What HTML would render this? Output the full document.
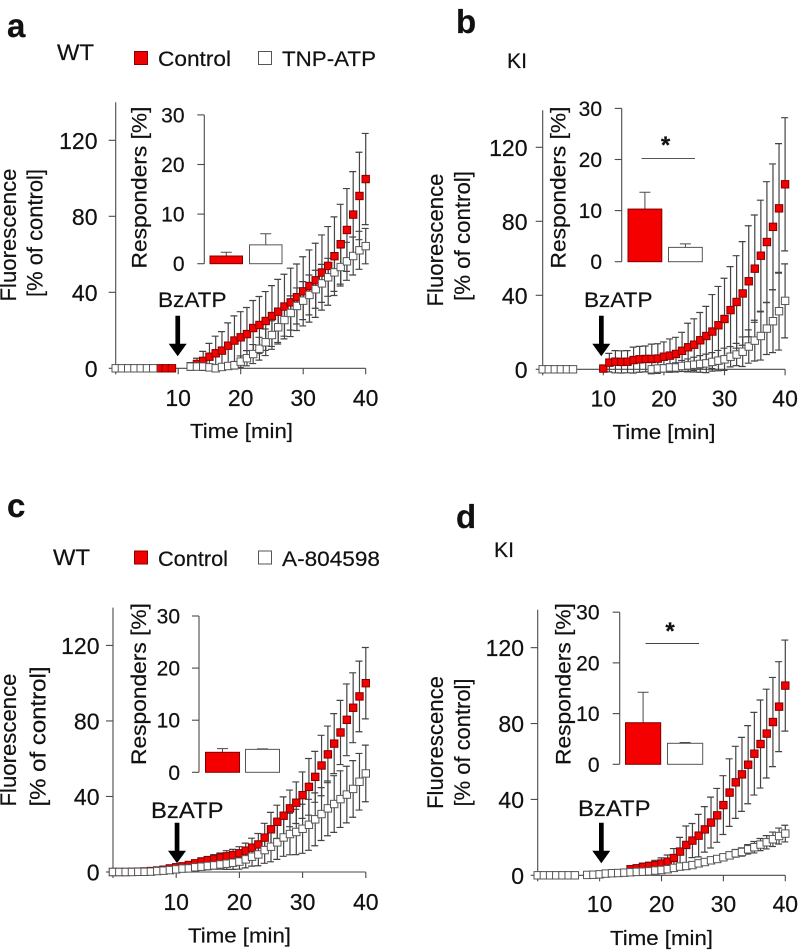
<!DOCTYPE html>
<html lang="en">
<head>
<meta charset="utf-8">
<title>Fluorescence and responders panels</title>
<style>
html,body{margin:0;padding:0;background:#fff;}
svg{display:block;font-family:"Liberation Sans",Arial,sans-serif;fill:#111;filter:blur(0.35px);}
text{fill:#111;stroke:#111;stroke-width:0.2;}
</style>
</head>
<body>
<svg id="figure" width="799" height="951" viewBox="0 0 799 951" xmlns="http://www.w3.org/2000/svg">
<rect width="799" height="951" fill="#fff"/>

<g id="panel-a">
<text x="7" y="37" font-size="33" font-weight="bold">a</text>
<text x="57" y="60" font-size="22" textLength="37" lengthAdjust="spacingAndGlyphs">WT</text>
<rect x="134.500" y="51.500" width="13" height="13" fill="#f00000" stroke="#800" stroke-width="1"/>
<text x="158" y="66" font-size="21.500" textLength="73" lengthAdjust="spacingAndGlyphs">Control</text>
<rect x="258.500" y="51.500" width="13" height="13" fill="#fff" stroke="#555" stroke-width="1"/>
<text x="282" y="66" font-size="21.500" textLength="94" lengthAdjust="spacingAndGlyphs">TNP-ATP</text>
<text transform="translate(16,235) rotate(-90)" text-anchor="middle" font-size="22" textLength="133" lengthAdjust="spacingAndGlyphs">Fluorescence</text>
<text transform="translate(42.500,233) rotate(-90)" text-anchor="middle" font-size="22" textLength="128" lengthAdjust="spacingAndGlyphs">[% of control]</text>
<text transform="translate(146.500,187.500) rotate(-90)" text-anchor="middle" font-size="21.500" textLength="162" lengthAdjust="spacingAndGlyphs">Responders [%]</text>
<text x="158" y="307" font-size="21.500" textLength="68.500" lengthAdjust="spacingAndGlyphs">BzATP</text>
<text x="190" y="438" font-size="20.500" textLength="103" lengthAdjust="spacingAndGlyphs">Time [min]</text>
<path d="M175.400 315.700h4.700v28h6.600l-9 12.500-9-12.500h6.700z" fill="#000"/>
</g>

<g id="panel-b">
<text x="456" y="33" font-size="33" font-weight="bold">b</text>
<text x="507" y="68" font-size="21.500" textLength="20" lengthAdjust="spacingAndGlyphs">KI</text>
<text transform="translate(443,240) rotate(-90)" text-anchor="middle" font-size="22" textLength="133" lengthAdjust="spacingAndGlyphs">Fluorescence</text>
<text transform="translate(470,236) rotate(-90)" text-anchor="middle" font-size="22" textLength="130" lengthAdjust="spacingAndGlyphs">[% of control]</text>
<text transform="translate(565.500,187.500) rotate(-90)" text-anchor="middle" font-size="21.500" textLength="162" lengthAdjust="spacingAndGlyphs">Responders [%]</text>
<text x="584" y="307" font-size="21.500" textLength="68.500" lengthAdjust="spacingAndGlyphs">BzATP</text>
<text x="612.500" y="439" font-size="20.500" textLength="103" lengthAdjust="spacingAndGlyphs">Time [min]</text>
<path d="M599 315.700h4.700v28h6.600l-9 12.500-9-12.500h6.700z" fill="#000"/>
<line x1="641.500" x2="695" y1="158.500" y2="158.500" stroke="#555" stroke-width="1"/>
<text x="665.500" y="153" text-anchor="middle" font-size="24" font-weight="bold">*</text>
</g>

<g id="panel-c">
<text x="7" y="517" font-size="33" font-weight="bold">c</text>
<text x="53" y="565" font-size="22" textLength="37" lengthAdjust="spacingAndGlyphs">WT</text>
<rect x="134.500" y="551" width="13" height="13" fill="#f00000" stroke="#800" stroke-width="1"/>
<text x="158" y="566" font-size="21.500" textLength="70" lengthAdjust="spacingAndGlyphs">Control</text>
<rect x="258.500" y="551" width="13" height="13" fill="#fff" stroke="#555" stroke-width="1"/>
<text x="282" y="566" font-size="21.500" textLength="98" lengthAdjust="spacingAndGlyphs">A-804598</text>
<text transform="translate(16,740) rotate(-90)" text-anchor="middle" font-size="22" textLength="133" lengthAdjust="spacingAndGlyphs">Fluorescence</text>
<text transform="translate(45.500,736.500) rotate(-90)" text-anchor="middle" font-size="22" textLength="140" lengthAdjust="spacingAndGlyphs">[% of control]</text>
<text transform="translate(146,684) rotate(-90)" text-anchor="middle" font-size="21.500" textLength="162" lengthAdjust="spacingAndGlyphs">Responders [%]</text>
<text x="151" y="818" font-size="22.500" textLength="72.500" lengthAdjust="spacingAndGlyphs">BzATP</text>
<text x="188" y="942.500" font-size="20.500" textLength="103" lengthAdjust="spacingAndGlyphs">Time [min]</text>
<path d="M174.700 822.700h4.700v28h6.600l-9 12.500-9-12.500h6.700z" fill="#000"/>
</g>

<g id="panel-d">
<text x="456" y="528" font-size="33" font-weight="bold">d</text>
<text x="494" y="557" font-size="21.500" textLength="20" lengthAdjust="spacingAndGlyphs">KI</text>
<text transform="translate(443,742.500) rotate(-90)" text-anchor="middle" font-size="22" textLength="133" lengthAdjust="spacingAndGlyphs">Fluorescence</text>
<text transform="translate(470,742.500) rotate(-90)" text-anchor="middle" font-size="22" textLength="128" lengthAdjust="spacingAndGlyphs">[% of control]</text>
<text transform="translate(570.500,684) rotate(-90)" text-anchor="middle" font-size="21.500" textLength="162" lengthAdjust="spacingAndGlyphs">Responders [%]</text>
<text x="578" y="816" font-size="22.500" textLength="72.500" lengthAdjust="spacingAndGlyphs">BzATP</text>
<text x="610" y="945" font-size="20.500" textLength="103" lengthAdjust="spacingAndGlyphs">Time [min]</text>
<path d="M599 822.700h4.700v28h6.600l-9 12.500-9-12.500h6.700z" fill="#000"/>
<line x1="645.500" x2="699" y1="643.500" y2="643.500" stroke="#444" stroke-width="1"/>
<text x="670" y="639" text-anchor="middle" font-size="24" font-weight="bold">*</text>
</g>
</svg>

<script>
const N = null;
const timeTicks = [10, 20, 30, 40];
const fluorescenceTicks = [0, 40, 80, 120];
const responderTicks = [0, 10, 20, 30];

const aControl = [N,N,N,N,N,N,N,0,0,0,N,N,1,2.3,3.9,6.1,7.9,9.3,11.9,14.6,16.3,18,21.2,22.8,24.9,27.5,29.8,32.5,34.7,37.4,40.5,43.3,46.3,50.4,53.9,59,65.3,72.8,80.9,90.7,99.6];
const aControlErr = [0,0,0,0,0,0,0,0,0,0,0,0,2,3,5,7,9,10,12,13,13.5,14,14.5,15,15.5,16,17,17,18,17.5,18.2,19,19.5,19.8,20.7,20.7,21,21.8,22.6,23,24];
const aDrug = [0,0,0,0,0,0,0,N,N,N,N,N,.9,.9,.9,.5,0,.7,1.2,1.6,3.5,5.3,7.5,10.3,13.7,17.5,21.6,25.4,29.1,32.8,35.6,38.6,41.6,44.7,47.9,50.5,53.3,56.3,59.1,62.1,64.3];
const aDrugErr = [0,0,0,0,0,0,0,0,0,0,0,0,1,1,1,1,1,1,1.5,2,3,4,5,6,7,7.5,8,8.5,9,9.5,10,10.5,10,10,10,10,10,10,10,10,9.3];
const aBarValues = [1.55, 3.8];
const aBarErrs = [0.75, 2.25];

const bControl = [N,N,N,N,N,N,N,N,N,N,.4,3.6,4.1,4,4.1,5,5.4,5.6,5.6,5.8,6.8,7.4,8.3,10,11.9,13.3,15.7,18,20.4,23.8,27.2,32,36.4,41,47.6,54.4,61.4,68.8,77,87,100];
const bControlErr = [0,0,0,0,0,0,0,0,0,0,1,5,6,6,6,7,7,7,8,8,8,9,9,10,13,14,15,16,20,21,22,23.5,25,28,30,29,30,32.6,34,35,36];
const bDrug = [0,0,0,0,0,0,N,N,N,N,N,N,N,N,N,N,N,N,0,.4,.5,1,1,1.8,2.1,2.5,2.9,3.2,4,4.7,5.4,6.8,8,9.5,12.3,15.5,18,22,26,31.4,37];
const bDrugErr = [0,0,0,0,0,0,0,0,0,0,0,0,0,0,0,0,0,0,1,1,2,2,2.5,3,3.5,4,4.5,5,5,5.5,6,5.5,6,8,9,11,13,14,17,21,20];
const bBarValues = [10.3, 2.8];
const bBarErrs = [3.3, 0.7];

const cControl = [0,0,0,.1,.2,.3,.5,.8,1.2,1.9,2.5,3,3.7,4.6,5.5,6.2,6.7,7.6,8.3,9,9.9,11.3,12.9,14.6,18.2,22.6,26.6,29.8,33.7,36.7,40.7,45.1,50.4,56.4,62.3,68,73.9,80.6,87,93,100];
const cControlErr = [0,0,0,0,0,0,0,0,0,0,1,1,1.5,1.5,2,2,2.5,2.5,3,3,3.5,4,5,5.8,7.6,9,8.8,10,9.7,11,12.3,15,13.5,16,15,15.9,17,19,18.5,18.7,18.9];
const cDrug = [0,0,0,0,.1,.1,.2,.5,.7,1,1.4,1.8,1.9,2.5,2.8,3.2,3.5,4,4.4,4.9,5.5,6.7,8.1,9.3,11.6,13.4,15.7,18.3,20.1,21.2,22.9,25,27.9,30.7,33.7,36,38.6,41,44,47.8,52.2];
const cDrugErr = [0,0,0,0,0,0,0,0,0,0,.8,1,1,1.2,1.5,2,2,2.5,3,3.5,4,4.5,5,6,7,8,9,10,11,12,13,13.5,14,14,14.5,15,15,15,15,15,15];
const cBarValues = [3.84, 4.4];
const cBarErrs = [0.7, 0.1];

const dControl = [N,N,N,N,N,N,N,N,N,N,N,N,N,N,N,3.2,3.7,4.4,4.9,5.4,6.2,7.2,9.1,12.5,16,18.3,20.9,24.2,27.8,31.6,37,43.6,49,53.2,58.3,64.1,69.2,74.7,80.8,88.9,100];
const dControlErr = [0,0,0,0,0,0,0,0,0,0,0,0,0,0,0,1.5,1.5,2,2,2.5,3,3.5,5,7.5,10,9,11.2,12,13.4,14.2,15.5,17.8,19,19.5,20.6,21.8,23.2,23.4,23.5,23.7,24];
const dDrug = [0,0,0,0,0,0,0,N,.2,.3,.5,.9,1.1,1.2,1.4,1.6,1.8,1.9,2.1,2.5,2.8,3.2,3.9,4.6,4.9,5.4,6.3,7,7.9,8.6,9.5,10.5,11.6,12.3,13.7,14.8,16.2,17.4,19,20.7,22];
const dDrugErr = [0,0,0,0,0,0,0,0,0,0,0,0,.2,.2,.3,.3,.4,.4,.5,.5,.6,.6,.7,.7,.8,.8,1,1,1.2,1.3,1.5,1.8,2,2.2,2.5,3,3.2,3.5,3.8,4.2,4.4];
const dBarValues = [8.2, 4.14];
const dBarErrs = [6, 0.15];

const NS = 'http://www.w3.org/2000/svg';
const AXIS_COLOR = '#4a4a4a';

function node(parent, tag, props, text) {
  const el = document.createElementNS(NS, tag);
  for (const k in props) el.setAttribute(k, props[k]);
  if (text !== undefined) el.textContent = text;
  parent.appendChild(el);
  return el;
}

function drawSeries(g, xScale, yScale, values, errs, kind, layer) {
  values.forEach(function (v, t) {
    if (v === null) return;
    const cx = xScale(t);
    const cy = yScale(v);
    if (layer === 'err') {
      const e = errs[t];
      if (e <= 0) return;
      const up = yScale(v + e);
      const down = yScale(v - e);
      const bar = node(g, 'path', {
        d: 'M' + cx + ' ' + up + 'V' + down + 'M' + (cx - 4) + ' ' + up + 'H' + (cx + 3) + 'M' + (cx - 4) + ' ' + down + 'H' + (cx + 3),
        stroke: '#444', 'stroke-width': 1.2, fill: 'none'
      });
      
      
    } else {
      const m = node(g, 'rect', {
        x: cx - 3.7, y: cy - 3.7, width: 7.4, height: 7.4,
        fill: kind === 'control' ? '#f50000' : '#fff',
        stroke: kind === 'control' ? '#800000' : '#555',
        'stroke-width': 1
      });
      
      
    }
  });
}

function drawPanel(cfg) {
  const g = document.getElementById(cfg.id);
  const xScale = function (t) { return cfg.x0 + t * cfg.dx; };
  const yScale = function (v) { return cfg.y0 - v * cfg.dy; };
  const insetScale = function (v) { return cfg.insetY0 - v * cfg.insetDy; };

  const xAxis = node(g, 'line', { x1: xScale(0), x2: xScale(40), y1: cfg.y0, y2: cfg.y0, stroke: AXIS_COLOR, 'stroke-width': 1.1 });
  
  
  const yAxis = node(g, 'line', { x1: xScale(0), x2: xScale(0), y1: yScale(140), y2: cfg.y0 + 5, stroke: AXIS_COLOR, 'stroke-width': 1.1 });
  
  

  [0].concat(timeTicks).forEach(function (t) {
    const tick = node(g, 'line', { x1: xScale(t), x2: xScale(t), y1: cfg.y0, y2: cfg.y0 + 6, stroke: AXIS_COLOR, 'stroke-width': 1.1 });
    
    
  });
  timeTicks.forEach(function (t) {
    const label = node(g, 'text', { x: xScale(t), y: cfg.xLabelY, 'text-anchor': 'middle', 'font-size': 23 }, String(t));
    
    
  });
  fluorescenceTicks.forEach(function (v) {
    const tick = node(g, 'line', { x1: xScale(0) - 7, x2: xScale(0), y1: yScale(v), y2: yScale(v), stroke: AXIS_COLOR, 'stroke-width': 1.1 });
    
    
    const label = node(g, 'text', { x: cfg.yLabelX, y: yScale(v) + 8.5, 'text-anchor': 'end', 'font-size': 23 }, String(v));
    
    
  });

  const seriesOrder = [[cfg.control, cfg.controlErr, 'control'], [cfg.drug, cfg.drugErr, 'drug']];
  seriesOrder.forEach(function (s) { drawSeries(g, xScale, yScale, s[0], s[1], s[2], 'err'); });
  seriesOrder.forEach(function (s) { drawSeries(g, xScale, yScale, s[0], s[1], s[2], 'mark'); });

  const insetAxis = node(g, 'line', { x1: cfg.insetX, x2: cfg.insetX, y1: insetScale(30), y2: cfg.insetY0, stroke: AXIS_COLOR, 'stroke-width': 1.1 });
  
  
  responderTicks.forEach(function (v) {
    const tick = node(g, 'line', { x1: cfg.insetX - 7, x2: cfg.insetX, y1: insetScale(v), y2: insetScale(v), stroke: AXIS_COLOR, 'stroke-width': 1.1 });
    
    
    const label = node(g, 'text', { x: cfg.insetLabelX, y: insetScale(v) + 7.5, 'text-anchor': 'end', 'font-size': 21 }, String(v));
    
    
  });
  cfg.barValues.forEach(function (v, i) {
    const left = cfg.barLeft[i];
    const mid = left + cfg.barWidth / 2;
    const top = insetScale(v);
    const whisker = node(g, 'path', {
      d: 'M' + mid + ' ' + top + 'V' + insetScale(v + cfg.barErrs[i]) + 'M' + (mid - 5.5) + ' ' + insetScale(v + cfg.barErrs[i]) + 'H' + (mid + 5.5),
      stroke: AXIS_COLOR, 'stroke-width': 1, fill: 'none'
    });
    
    
    const bar = node(g, 'rect', {
      x: left, y: top, width: cfg.barWidth, height: cfg.insetY0 - top,
      fill: i === 0 ? '#f50000' : '#fff',
      stroke: i === 0 ? '#800000' : '#555', 'stroke-width': 1
    });
    
    
  });
}

drawPanel({ id: 'panel-a', x0: 115.7, dx: 6.25, y0: 368.3, dy: 1.9, xLabelY: 406, yLabelX: 97.5,
  control: aControl, controlErr: aControlErr, drug: aDrug, drugErr: aDrugErr,
  insetX: 204.3, insetY0: 263.7, insetDy: 4.96, insetLabelX: 184.5, barLeft: [210, 249.5], barWidth: 32.5, barValues: aBarValues, barErrs: aBarErrs });
drawPanel({ id: 'panel-b', x0: 542.7, dx: 6.06, y0: 369.3, dy: 1.85, xLabelY: 406.5, yLabelX: 527.5,
  control: bControl, controlErr: bControlErr, drug: bDrug, drugErr: bDrugErr,
  insetX: 621.7, insetY0: 261.7, insetDy: 5.11, insetLabelX: 602, barLeft: [628, 668.5], barWidth: 33.8, barValues: bBarValues, barErrs: bBarErrs });
drawPanel({ id: 'panel-c', x0: 113, dx: 6.32, y0: 872, dy: 1.888, xLabelY: 910, yLabelX: 99.5,
  control: cControl, controlErr: cControlErr, drug: cDrug, drugErr: cDrugErr,
  insetX: 199, insetY0: 772.3, insetDy: 5.21, insetLabelX: 180, barLeft: [205.5, 245.5], barWidth: 34, barValues: cBarValues, barErrs: cBarErrs });
drawPanel({ id: 'panel-d', x0: 537.7, dx: 6.19, y0: 875.3, dy: 1.897, xLabelY: 912, yLabelX: 524,
  control: dControl, controlErr: dControlErr, drug: dDrug, drugErr: dDrugErr,
  insetX: 619.7, insetY0: 764.3, insetDy: 5.07, insetLabelX: 599.5, barLeft: [625.5, 667.5], barWidth: 35.2, barValues: dBarValues, barErrs: dBarErrs });
</script>
</body>
</html>
